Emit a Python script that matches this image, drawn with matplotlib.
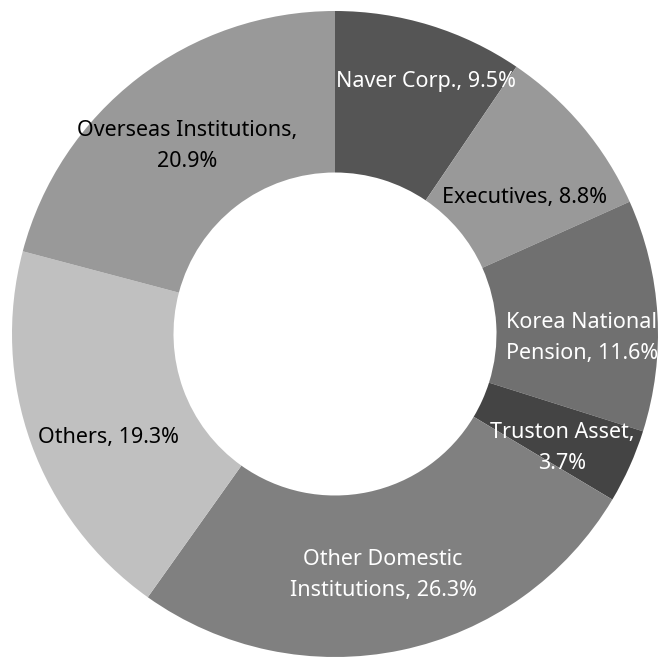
import matplotlib
matplotlib.use("Agg")
import matplotlib.pyplot as plt

labels = ["Naver Corp., 9.5%", "Executives, 8.8%", "Korea National\nPension, 11.6%",
          "Truston Asset,\n3.7%", "Other Domestic\nInstitutions, 26.3%", "Others, 19.3%",
          "Overseas Institutions,\n20.9%"]
shares = [9.5, 8.8, 11.6, 3.7, 26.3, 19.3, 20.9]
colors = ["#555555", "#999999", "#707070", "#444444", "#808080", "#c0c0c0", "#999999"]
text_colors = ["white", "black", "white", "white", "white", "black", "black"]

# label centres (pixels in the 660x658 picture)
label_px = [(426, 82), (525, 198), (582, 338), (562, 448), (383, 575), (108, 438), (187, 146)]

plt.rcParams['font.family'] = ['Noto Sans', 'DejaVu Sans']

fig = plt.figure(figsize=(6.6, 6.58), dpi=100)
ax = fig.add_axes([0, 0, 1, 1])

cx, cy, R = 335, 334, 323
wedges, texts = ax.pie(shares, labels=labels, colors=colors, startangle=90, counterclock=False,
                       radius=1.0, wedgeprops=dict(width=0.5, linewidth=0),
                       textprops=dict(fontsize=15.5, fontweight='light', ha='center',
                                      va='center', linespacing=1.62))
for t, (px, py), tc in zip(texts, label_px, text_colors):
    t.set_position(((px - cx) / R, (cy - py) / R))
    t.set_color(tc)
    t.set_ha('center')
    t.set_va('center')

ax.set_xlim(-cx / R, (660 - cx) / R)
ax.set_ylim(-(658 - cy) / R, cy / R)
ax.set_aspect('auto')
ax.axis('off')

fig.savefig("out.png", dpi=100)
